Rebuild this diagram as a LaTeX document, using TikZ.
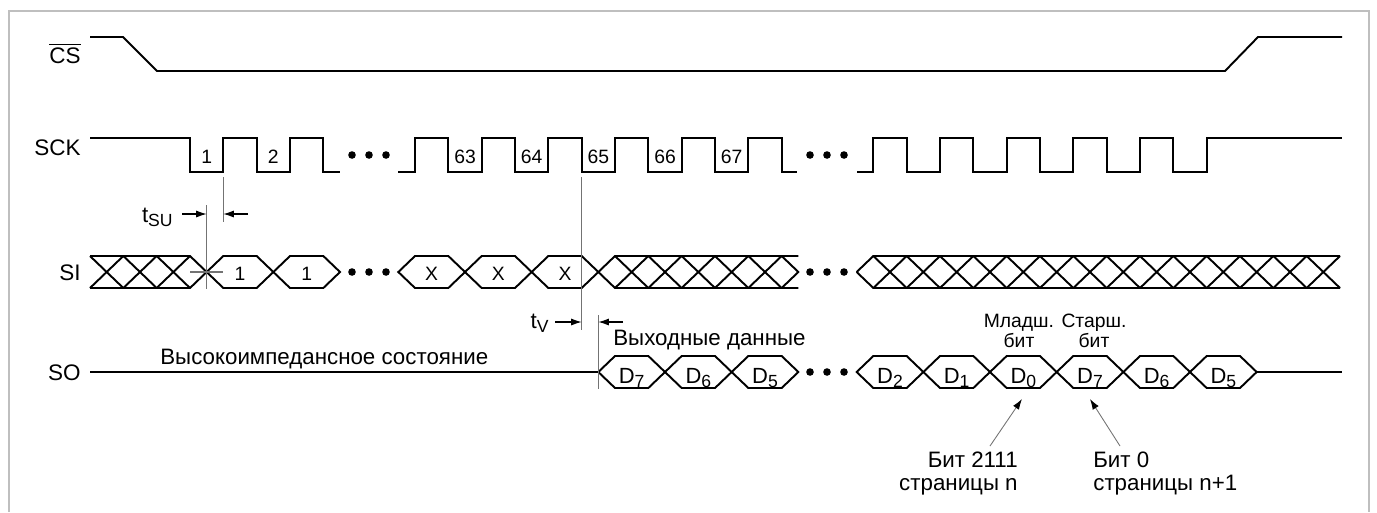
\documentclass[tikz,border=0pt]{standalone}
\usepackage{fontspec}
\setmainfont{Liberation Sans}
\usetikzlibrary{arrows.meta, calc}

\newcommand\lowsub[1]{\raisebox{-0.4ex}{\fontsize{10}{10}\selectfont #1}}

\tikzset{
  wave/.style={line width=1.1pt},
  guide/.style={line width=0.6pt, black!55},
  dimarrow/.style={-{Latex[length=6pt,width=4pt]}, line width=0.6pt},
  pointer/.style={-{Latex[length=6pt,width=4pt,black]}, line width=0.5pt, black!55},
  siglabel/.style={anchor=base east, font=\fontsize{12.8}{14}\selectfont},
  cellnum/.style={anchor=base, font=\fontsize{11}{11}\selectfont},
  note/.style={font=\fontsize{12.7}{12.8}\selectfont},
  bitnote/.style={anchor=base, align=center, font=\fontsize{11}{11.3}\selectfont},
}

\begin{document}
\begin{tikzpicture}[x=0.02cm, y=-0.02cm, every node/.style={inner sep=0pt}]
\useasboundingbox (0,0) rectangle (1377,512);
\draw[black!25, line width=1.1pt] (9,512) -- (9,11) -- (1369,11) -- (1369,512);

% signal names
\node[siglabel] (lcs) at (81,63) {$\overline{\mbox{CS}}$};
\node[siglabel] (lsck) at (81,155) {SCK};
\node[siglabel] (lsi) at (81,280) {SI};
\node[siglabel] (lso) at (81,380) {SO};

% CS
\draw[wave] (90,37) -- (123,37) -- (157,71) -- (1225,71) -- (1258,37) -- (1342,37);

% SCK
\draw[wave] (90,138) \foreach \x in {190,256.67} { -- (\x,138) -- (\x,172) -- (\x+33.33,172) -- (\x+33.33,138) } -- (323.33,138) -- (323.33,172) -- (340,172);
\draw[wave] (398,172) \foreach \x in {415,481.67,548.33,615,681.67,748.33} { -- (\x,172) -- (\x,138) -- (\x+33.33,138) -- (\x+33.33,172) } -- (797,172);
\draw[wave] (857,172) \foreach \x in {873.33,940,1006.67,1073.33,1140} { -- (\x,172) -- (\x,138) -- (\x+33.33,138) -- (\x+33.33,172) } -- (1206.67,172) -- (1206.67,138) -- (1342,138);
\foreach \x/\t [count=\i] in {190/1, 256.67/2, 448.33/63, 515/64, 581.67/65, 648.33/66, 715/67}
  \node[cellnum] (clk\i) at (\x+16.67,163) {\t};

% dots
\foreach \x in {352,369,386,810,827,844} {
  \fill (\x,155) circle[radius=3.8];
  \fill (\x,272) circle[radius=3.8];
}
\foreach \x in {810,827,844} \fill (\x,372) circle[radius=3.8];

% SI
\draw[wave] (90,256) -- (190,256) -- (206.67,272) (90,288) -- (190,288) -- (206.67,272);
\foreach \x in {90,123.33,156.67} \draw[wave] (\x,256) -- ++(33.33,32) (\x,288) -- ++(33.33,-32);
\foreach \x/\t [count=\i] in {206.67/1, 273.33/1, 398.33/X, 465/X, 531.67/X} {
  \draw[wave] (\x,272) -- ++(16.67,-16) -- ++(33.33,0) -- ++(16.67,16) -- ++(-16.67,16) -- ++(-33.33,0) -- cycle;
  \node[cellnum] (si\i) at (\x+33.33,280) {\t};
}
\draw[wave] (598.33,272) -- (615,256) -- (798.33,256) (598.33,272) -- (615,288) -- (798.33,288);
\foreach \x in {615,648.33,681.67,715,748.33} \draw[wave] (\x,256) -- ++(33.33,32) (\x,288) -- ++(33.33,-32);
\draw[wave] (781.67,256) -- (798.33,272) -- (781.67,288);
\draw[wave] (856.67,272) -- (873.33,256) -- (1340,256) (856.67,272) -- (873.33,288) -- (1340,288);
\foreach \k in {0,...,13} \draw[wave] (873.33+33.333*\k,256) -- ++(33.33,32) (873.33+33.333*\k,288) -- ++(33.33,-32);

% SO
\draw[wave] (90,372) -- (598.33,372);
\foreach \x/\t [count=\i] in {598.33/7, 665/6, 731.67/5, 856.67/2, 923.33/1, 990/0, 1056.67/7, 1123.33/6, 1190/5} {
  \draw[wave] (\x,372) -- ++(16.67,-16) -- ++(33.33,0) -- ++(16.67,16) -- ++(-16.67,16) -- ++(-33.33,0) -- cycle;
  \node[anchor=base, font=\fontsize{12.5}{12.5}\selectfont] (so\i) at (\x+33.33,383) {D\lowsub{\t}};
}
\draw[wave] (1256.67,372) -- (1342,372);

% timing marks
\draw[guide] (206.67,205) -- (206.67,289);
\draw[guide] (223.33,177) -- (223.33,222);
\draw[guide] (190,272) -- (223.33,272);
\draw[guide] (581.67,177) -- (581.67,330);
\draw[guide] (598.33,315) -- (598.33,389);
\coordinate (sul) at (206.67,214);
\coordinate (sur) at (223.33,214);
\coordinate (sutail) at (182,214);
\coordinate (sutail2) at (248,214);
\coordinate (vl) at (581.67,322);
\coordinate (vr) at (598.33,322);
\coordinate (vtail) at (555,322);
\coordinate (vtail2) at (623,322);
\node[note, anchor=base east] (tsu) at (173,222) {t\lowsub{SU}};
\node[note, anchor=base east] (tv) at (549,328) {t\lowsub{V}};
\draw[dimarrow] (sutail) -- (sul);
\draw[dimarrow] (sutail2) -- (sur);
\draw[dimarrow] (vtail) -- (vl);
\draw[dimarrow] (vtail2) -- (vr);

% notes
\node[note, anchor=base west] (hz) at (160,364) {Высокоимпедансное состояние};
\node[note, anchor=base west] (outd) at (613,345) {Выходные данные};
\node[bitnote] (lsb) at (1019,347) {Младш.\\бит};
\node[bitnote] (msb) at (1094,347) {Старш.\\бит};
\node[note, anchor=base east, align=right] (b2111) at (1018,490) {Бит 2111\\страницы n};
\node[note, anchor=base west, align=left] (b0) at (1093,490) {Бит 0\\страницы n+1};
\coordinate (d0head) at (1022,399);
\coordinate (d0tail) at (990,446);
\coordinate (d7head) at (1090,399);
\coordinate (d7tail) at (1120,446);
\draw[pointer] (d0tail) -- (d0head);
\draw[pointer] (d7tail) -- (d7head);
\end{tikzpicture}
\end{document}
